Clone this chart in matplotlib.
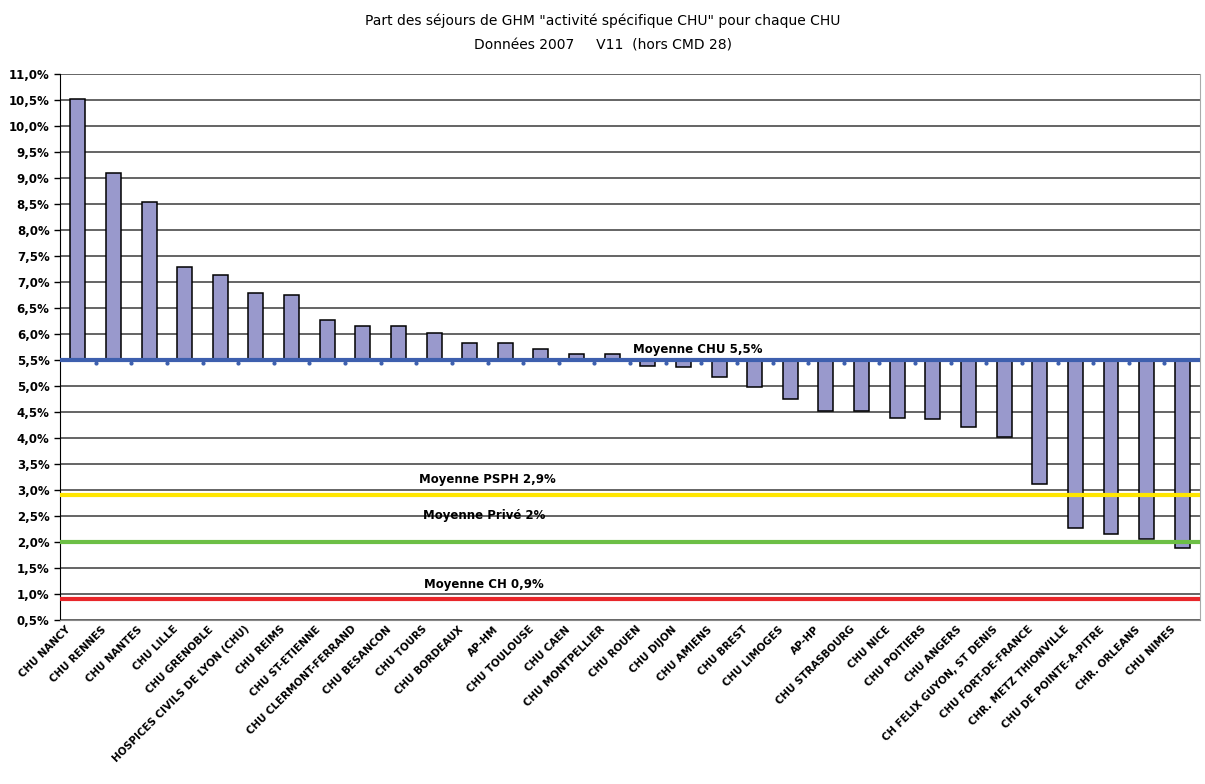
import matplotlib.pyplot as plt
import matplotlib as mtpl
import matplotlib.transforms as mtransforms
from matplotlib.ticker import FuncFormatter, MultipleLocator
import numpy as np

mtpl.rcParams['font.family'] = 'DejaVu Sans'

hospitals = ["CHU NANCY", "CHU RENNES", "CHU NANTES", "CHU LILLE", "CHU GRENOBLE",
             "HOSPICES CIVILS DE LYON (CHU)", "CHU REIMS", "CHU ST-ETIENNE",
             "CHU CLERMONT-FERRAND", "CHU BESANCON", "CHU TOURS", "CHU BORDEAUX",
             "AP-HM", "CHU TOULOUSE", "CHU CAEN", "CHU MONTPELLIER", "CHU ROUEN",
             "CHU DIJON", "CHU AMIENS", "CHU BREST", "CHU LIMOGES", "AP-HP",
             "CHU STRASBOURG", "CHU NICE", "CHU POITIERS", "CHU ANGERS",
             "CH FELIX GUYON, ST DENIS", "CHU FORT-DE-FRANCE", "CHR. METZ THIONVILLE",
             "CHU DE POINTE-A-PITRE", "CHR. ORLEANS", "CHU NIMES"]
share = [10.51, 9.10, 8.53, 7.28, 7.13, 6.79, 6.75, 6.27, 6.15, 6.15, 6.01, 5.83,
         5.83, 5.71, 5.62, 5.62, 5.39, 5.37, 5.18, 4.99, 4.75, 4.52, 4.52, 4.39,
         4.36, 4.22, 4.01, 3.12, 2.26, 2.15, 2.05, 1.88]

mean_chu = 5.5
mean_psph = 2.9
mean_prive = 2.0
mean_ch = 0.9

fig = plt.figure(figsize=(12.05, 7.84), dpi=100)
ax = fig.add_axes([0.0498, 0.2092, 0.9461, 0.6964])

x = np.arange(len(hospitals))
ax.set_xlim(-0.5, len(hospitals) - 0.5)
ax.set_ylim(0.5, 11.0)

# grid
ax.yaxis.set_major_locator(MultipleLocator(0.5))
ax.grid(axis='y', color='#3a3a3a', linewidth=1.1, zorder=0)
ax.set_axisbelow(True)

# bars from the CHU mean
heights = [v - mean_chu for v in share]
ax.bar(x, heights, bottom=mean_chu, width=0.42, color='#9999cc',
       edgecolor='black', linewidth=1.1, zorder=2)

# reference lines
ax.axhline(mean_ch, color='#e8262a', linewidth=3, zorder=3)
ax.axhline(mean_prive, color='#6cbf45', linewidth=3, zorder=3)
ax.axhline(mean_psph, color='#ffe600', linewidth=3, zorder=3)
ax.axhline(mean_chu, color='#3d5fae', linewidth=3, zorder=4)
ax.plot(x[:-1] + 0.5, [mean_chu - 0.06] * (len(x) - 1), linestyle='none',
        marker='o', markersize=2, color='#3d5fae', zorder=4)

ax.text(17.4, mean_chu + 0.08, "Moyenne CHU 5,5%", ha='center', va='bottom',
        fontsize=8.5, fontweight='bold', zorder=5)
ax.text(11.5, mean_psph + 0.18, "Moyenne PSPH 2,9%", ha='center', va='bottom',
        fontsize=8.5, fontweight='bold', zorder=5)
ax.text(11.4, mean_prive + 0.38, "Moyenne Privé 2%", ha='center', va='bottom',
        fontsize=8.5, fontweight='bold', zorder=5)
ax.text(11.4, mean_ch + 0.15, "Moyenne CH 0,9%", ha='center', va='bottom',
        fontsize=8.5, fontweight='bold', zorder=5)

ax.yaxis.set_major_formatter(FuncFormatter(lambda v, p: f"{v:.1f}%".replace('.', ',')))
ax.tick_params(axis='y', labelsize=8.5, length=4, width=1)
for lab in ax.get_yticklabels():
    lab.set_fontweight('bold')

ax.set_xticks(x)
ax.set_xticklabels(hospitals, rotation=45, ha='right', rotation_mode='anchor',
                   fontsize=7.4, fontweight='heavy')
ax.tick_params(axis='x', length=0, pad=3)
shift = mtransforms.ScaledTranslation(-12 / 100, 0, fig.dpi_scale_trans)
for lab in ax.get_xticklabels():
    lab.set_transform(lab.get_transform() + shift)

ax.spines['left'].set_color('black')
ax.spines['right'].set_color('#aaaaaa')
ax.spines['bottom'].set_color('#888888')
ax.spines['top'].set_visible(False)

fig.text(0.5, 0.973, 'Part des séjours de GHM "activité spécifique CHU" pour chaque CHU',
         ha='center', va='center', fontsize=10)
fig.text(0.5, 0.942, 'Données 2007     V11  (hors CMD 28)', ha='center', va='center',
         fontsize=10)

plt.savefig('out.png', dpi=100)
plt.close()
